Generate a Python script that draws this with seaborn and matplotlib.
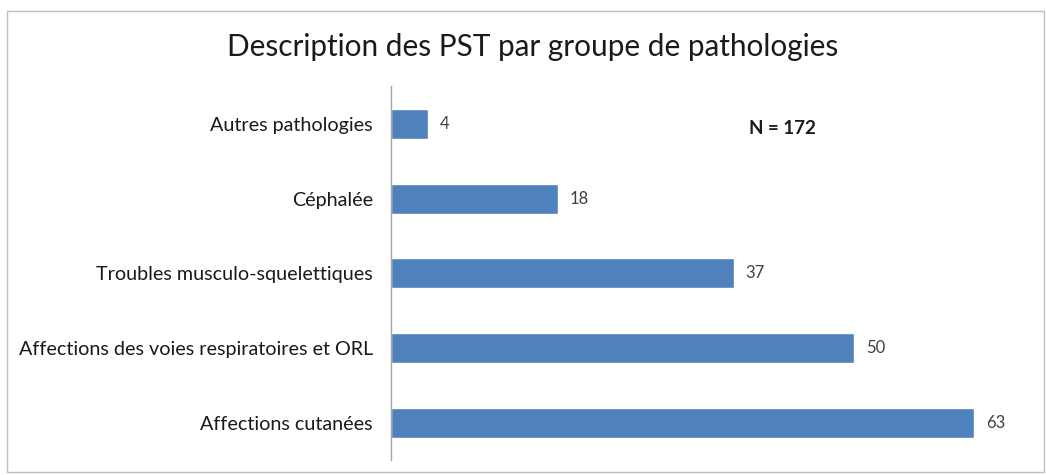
import matplotlib
matplotlib.use("Agg")
import matplotlib.pyplot as plt
import seaborn as sns
import pandas as pd
from matplotlib.patches import Rectangle

categories = ["Autres pathologies", "Céphalée", "Troubles musculo-squelettiques",
              "Affections des voies respiratoires et ORL", "Affections cutanées"]
values = [4, 18, 37, 50, 63]
title = "Description des PST par groupe de pathologies"
note = "N = 172"

sns.set_theme(style="white")
plt.rcParams['font.family'] = ['Lato', 'DejaVu Sans']

df = pd.DataFrame({"cat": categories, "val": values})

fig = plt.figure(figsize=(10.46, 4.75), dpi=100)
ax = fig.add_axes([391/1046, (475-460.4)/475, 648/1046, 374/475])
sns.barplot(data=df, y="cat", x="val", color="#4F81BD", saturation=1, width=0.4, ax=ax, orient="h")
ax.set_xlim(0, 70)
ax.set_xlabel("")
ax.set_ylabel("")
ax.set_xticks([])
for s in ["top", "right", "bottom"]:
    ax.spines[s].set_visible(False)
ax.spines["left"].set_color("#A6A6A6")
ax.spines["left"].set_linewidth(1.0)
ax.tick_params(axis="y", length=0, pad=13, labelsize=14.2, labelcolor="#1a1a1a")

for i, v in enumerate(values):
    ax.annotate(str(v), (v, i), xytext=(8.5, 0), textcoords="offset points",
                va="center", ha="left", fontsize=12, color="#404040")

fig.text(533/1046, 1-47/475, title, ha="center", va="center", fontsize=21.4, color="#1a1a1a")
fig.text(782/1046, 1-128/475, note, ha="center", va="center", fontsize=13.5, fontweight="bold", color="#1a1a1a")

fig.patches.append(Rectangle((7/1046, 1-472/475), 1037/1046, 461/475, transform=fig.transFigure,
                             fill=False, edgecolor="#BFBFBF", linewidth=1.0))

fig.savefig("out.png", dpi=100, facecolor="white")
